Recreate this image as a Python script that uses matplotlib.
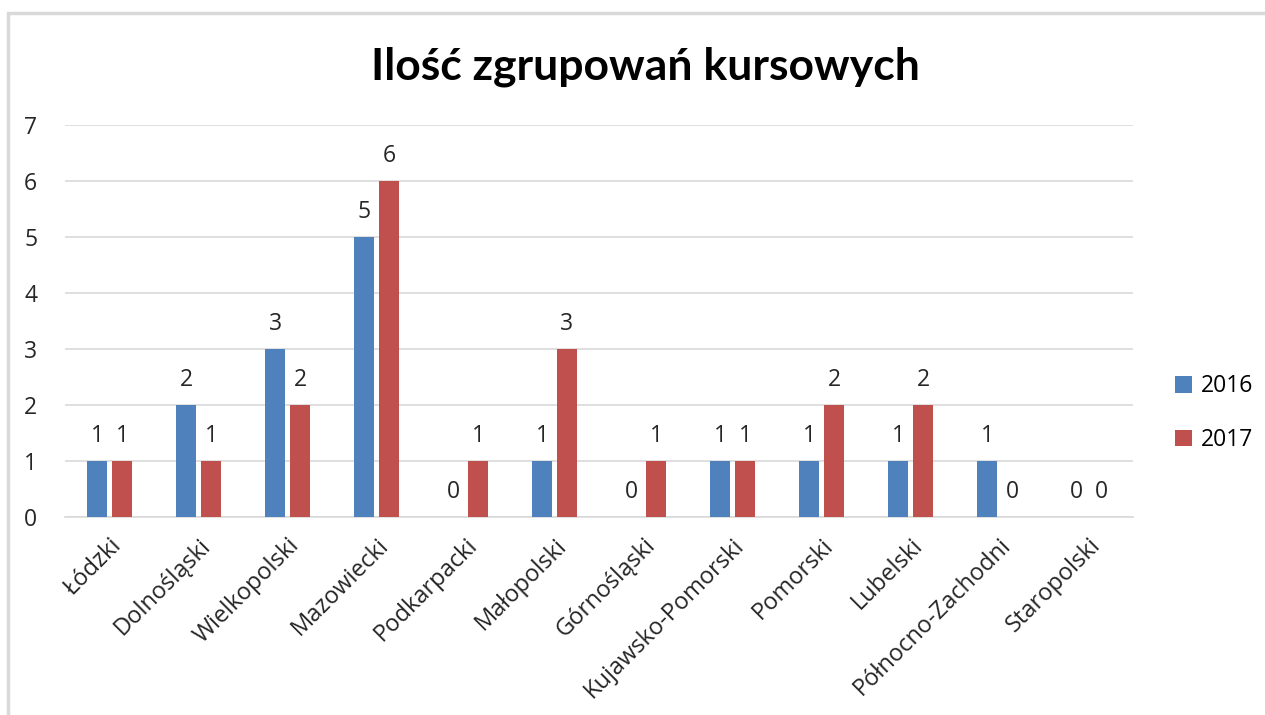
import numpy as np
import matplotlib.pyplot as plt
from matplotlib.patches import Rectangle

regions = ['Łódzki', 'Dolnośląski', 'Wielkopolski', 'Mazowiecki', 'Podkarpacki',
           'Małopolski', 'Górnośląski', 'Kujawsko-Pomorski', 'Pomorski', 'Lubelski',
           'Północno-Zachodni', 'Staropolski']
v2016 = [1, 2, 3, 5, 0, 1, 0, 1, 1, 1, 1, 0]
v2017 = [1, 1, 2, 6, 1, 3, 1, 1, 2, 2, 0, 0]
years = ['2016', '2017']

plt.rcParams['font.family'] = ['Open Sans', 'DejaVu Sans']

fig = plt.figure(figsize=(12.65, 7.15), dpi=100)
ax = fig.add_axes([65 / 1265, 1 - 517 / 715, (1133 - 65) / 1265, (517 - 125) / 715])

# chart frame
fig.patches.append(Rectangle((8 / 1265, -0.05), 1.2, 1 - 13 / 715 + 0.05,
                             transform=fig.transFigure, fill=False,
                             edgecolor='#d9d9d9', linewidth=2.5, zorder=0))

x = np.arange(len(regions))
w = 0.225
off = 0.14
b1 = ax.bar(x - off, v2016, w, color='#4f81bd', label=years[0], zorder=3)
b2 = ax.bar(x + off, v2017, w, color='#c0504d', label=years[1], zorder=3)
for bars in (b1, b2):
    ax.bar_label(bars, padding=9, fontsize=16.5, color='#262626')

ax.set_xlim(-0.5, len(regions) - 0.5)
ax.set_ylim(0, 7)
ax.set_yticks(range(8))
ax.grid(axis='y', color='#d9d9d9', linewidth=1.2, zorder=0)
for s in ['top', 'right', 'left']:
    ax.spines[s].set_visible(False)
ax.spines['bottom'].set_color('#d9d9d9')
ax.spines['bottom'].set_linewidth(1.2)
ax.tick_params(length=0, labelsize=16.5, colors='#262626')
ax.tick_params(axis='y', pad=20)
ax.set_xticks(x)
ax.set_xticklabels(regions, rotation=45, ha='right', rotation_mode='anchor',
                   fontsize=17)
ax.tick_params(axis='x', pad=12)

fig.text(0.51, 0.906, 'Ilość zgrupowań kursowych', ha='center', va='center',
         fontsize=32, fontweight='bold', family=['Lato', 'DejaVu Sans'])

ax.legend(loc='center left', bbox_to_anchor=(1.02, 0.265), frameon=False,
          fontsize=16.5, handlelength=0.75, handleheight=0.75, labelspacing=1.3,
          handletextpad=0.4)

fig.savefig('out.png', dpi=100)
